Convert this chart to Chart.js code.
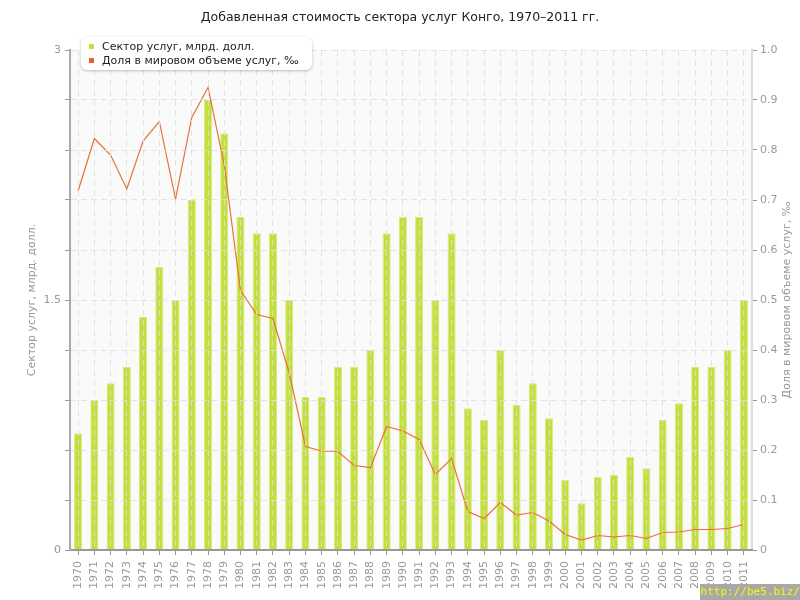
<!DOCTYPE html>
<html>
<head>
<meta charset="utf-8">
<script src="https://cdn.jsdelivr.net/npm/chart.js@4.4.0/dist/chart.umd.min.js"></script>
<style>
  body { margin: 0; background: #fff; }
  #wrap { position: relative; width: 800px; height: 600px; }
  #legend {
    position: absolute; left: 81px; top: 37px; width: 231px; height: 33px;
    background: #fff; border-radius: 6px; box-shadow: 0 1px 3px rgba(0,0,0,0.25);
    font: 11px "DejaVu Sans", sans-serif; color: #222;
  }
  #legend div { position: absolute; left: 8px; height: 14px; line-height: 14px; white-space: nowrap; }
  #legend span { display: inline-block; width: 5px; height: 5px; margin-right: 8px; vertical-align: 1px; }
  #mark {
    position: absolute; left: 700px; top: 584px; width: 100px; height: 16px;
    background: #a8a8a8; color: #f5f500; font: 11px "DejaVu Sans Mono", monospace; line-height: 16px; text-align: center;
  }
</style>
</head>
<body>
<div id="wrap">
  <canvas id="c" width="800" height="600"></canvas>
  <div id="legend"></div>
  <div id="mark">http://be5.biz/</div>
</div>
<script>
const years = [1970,1971,1972,1973,1974,1975,1976,1977,1978,1979,1980,1981,1982,1983,1984,1985,1986,1987,1988,1989,1990,
  1991,1992,1993,1994,1995,1996,1997,1998,1999,2000,2001,2002,2003,2004,2005,2006,2007,2008,2009,2010,2011];
// сектор услуг, млрд. долл.
const services = [0.70,0.90,1.00,1.10,1.40,1.70,1.50,2.10,2.70,2.50,2.00,1.90,1.90,1.50,0.92,0.92,1.10,1.10,1.20,1.90,2.00,
  2.00,1.50,1.90,0.85,0.78,1.20,0.87,1.00,0.79,0.42,0.28,0.44,0.45,0.56,0.49,0.78,0.88,1.10,1.10,1.20,1.50];
// доля в мировом объеме, промилле
const share = [0.718,0.823,0.790,0.722,0.818,0.857,0.702,0.865,0.925,0.770,0.519,0.471,0.463,0.354,0.207,0.198,0.197,0.169,0.165,0.247,0.238,
  0.221,0.151,0.183,0.077,0.063,0.095,0.070,0.075,0.058,0.031,0.020,0.029,0.026,0.029,0.023,0.035,0.036,0.041,0.041,0.043,0.051];
const leftLabels = [0, 1.5, 3];
const rightTitle = 'Доля в мировом объеме услуг, ‰';

const gridColor = 'rgba(222,222,222,0.85)';
const tickColor = '#999';
const font = { family: 'DejaVu Sans', size: 11 };

const bgPlugin = {
  id: 'bg',
  beforeDraw(chart) {
    const a = chart.chartArea, c = chart.ctx;
    c.save();
    c.fillStyle = '#fafafa';
    c.fillRect(a.left, a.top, a.right - a.left, a.bottom - a.top);
    c.restore();
  },
  afterDraw(chart) {
    // right axis title reads bottom-to-top like the left one
    const a = chart.chartArea, c = chart.ctx;
    c.save();
    c.translate(787, (a.top + a.bottom) / 2);
    c.rotate(-Math.PI / 2);
    c.font = '11px "DejaVu Sans"';
    c.fillStyle = tickColor;
    c.textAlign = 'center';
    c.textBaseline = 'middle';
    c.fillText(rightTitle, 0, 0);
    c.restore();
  }
};

const data = {
  labels: years,
  datasets: [{
    type: 'bar',
    label: 'Сектор услуг, млрд. долл.',
    data: services,
    yAxisID: 'y',
    backgroundColor: '#c3df3c',
    borderColor: '#d6ea82',
    borderWidth: 1,
    barPercentage: 0.5,
    categoryPercentage: 1,
    order: 2
  }, {
    type: 'line',
    label: rightTitle,
    data: share,
    yAxisID: 'y1',
    borderColor: '#e8703f',
    backgroundColor: '#e8602c',
    borderWidth: 1.2,
    pointRadius: 0,
    tension: 0,
    order: 1
  }]
};

const config = {
  type: 'bar',
  data: data,
  options: {
    responsive: false,
    animation: false,
    layout: { padding: 0 },
    plugins: {
      legend: { display: false },
      tooltip: { enabled: false },
      title: {
        display: true,
        text: 'Добавленная стоимость сектора услуг Конго, 1970–2011 гг.',
        color: '#222',
        font: { family: 'DejaVu Sans', size: 12.5, weight: 'normal' },
        padding: { top: 10, bottom: 25 }
      }
    },
    scales: {
      x: {
        offset: true,
        grid: { offset: false, color: gridColor, tickColor: tickColor, tickLength: 5, z: 1 },
        border: { color: '#999', width: 2, dash: [6, 4], z: 2 },
        ticks: { color: tickColor, font: font, minRotation: 90, maxRotation: 90, autoSkip: false, padding: 6 },
        afterFit(s) { s.height = 50; }
      },
      y: {
        position: 'left',
        min: 0, max: 3,
        ticks: {
          stepSize: 0.3, color: tickColor, font: font, padding: 4,
          callback: v => leftLabels.some(l => Math.abs(l - v) < 1e-6) ? String(Math.round(v * 10) / 10) : ''
        },
        grid: { color: gridColor, tickColor: tickColor, tickLength: 5, z: 1 },
        border: { color: '#aaa', width: 2, dash: [6, 4], z: 2 },
        title: { display: true, text: 'Сектор услуг, млрд. долл.', color: tickColor, font: font, padding: { top: 26, bottom: 0 } },
        afterFit(s) { s.width = 70; }
      },
      y1: {
        position: 'right',
        min: 0, max: 1,
        ticks: { stepSize: 0.1, color: tickColor, font: font, padding: 3 },
        grid: { drawOnChartArea: false, tickColor: tickColor, tickLength: 5 },
        border: { color: '#ddd', width: 2 },
        afterFit(s) { s.width = 48; }
      }
    }
  },
  plugins: [bgPlugin]
};

const chart = new Chart(document.getElementById('c').getContext('2d'), config);

// html legend built from datasets
const legend = document.getElementById('legend');
chart.data.datasets.forEach((ds, i) => {
  const row = document.createElement('div');
  row.style.top = (3 + i * 14) + 'px';
  const sq = document.createElement('span');
  sq.style.background = ds.backgroundColor;
  row.appendChild(sq);
  row.appendChild(document.createTextNode(ds.label));
  legend.appendChild(row);
});
</script>
</body>
</html>
